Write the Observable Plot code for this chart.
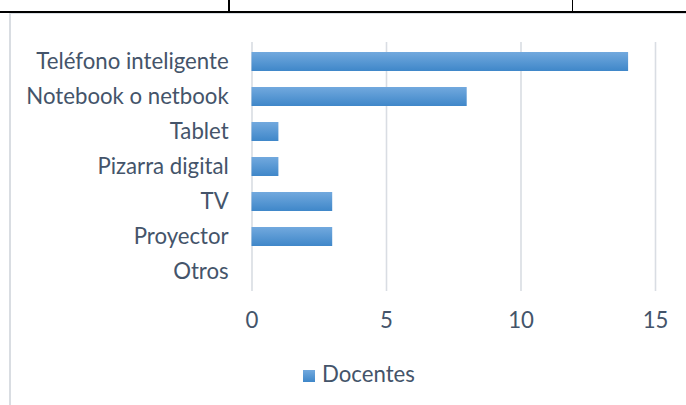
<!DOCTYPE html>
<html>
<head>
<meta charset="utf-8">
<script src="https://cdn.jsdelivr.net/npm/d3@7"></script>
<script src="https://cdn.jsdelivr.net/npm/@observablehq/plot@0.6"></script>
<style>
  html, body { margin: 0; padding: 0; background: #fff; }
  #wrap { position: relative; width: 686px; height: 405px; overflow: hidden; font-family: Lato, "Open Sans", sans-serif; }
  #chart { position: absolute; left: 0; top: 0; }
  .line { position: absolute; }
  #legend-swatch { position: absolute; width: 12px; height: 12px; background: linear-gradient(#72a9de, #3f87c9); }
  #legend-text { position: absolute; line-height: 1.2; white-space: nowrap; color: #44546a; }
</style>
</head>
<body>
<div id="wrap">
  <div id="chart"></div>
  <!-- surrounding document table borders and chart border -->
  <div class="line" style="left:9px;top:12.5px;width:677px;height:1px;background:#d9dde2"></div>
  <div class="line" style="left:9px;top:12.5px;width:1.5px;height:393px;background:#d9dde2"></div>
  <div class="line" style="left:0;top:11px;width:686px;height:1.5px;background:#000"></div>
  <div class="line" style="left:0;top:11px;width:9px;height:2px;background:#000"></div>
  <div class="line" style="left:228.3px;top:0;width:1.7px;height:12px;background:#000"></div>
  <div class="line" style="left:571.7px;top:0;width:1.7px;height:12px;background:#000"></div>
  <div id="legend-swatch"></div>
  <div id="legend-text"></div>
</div>
<script>
const categories = ["Teléfono inteligente", "Notebook o netbook", "Tablet", "Pizarra digital", "TV", "Proyector", "Otros"];
const values = [14, 8, 1, 1, 3, 3, 0];
const xTicks = [0, 5, 10, 15];
const seriesName = "Docentes";

const data = categories.map((c, i) => ({category: c, value: values[i]}));

// fit font size so the label widths resemble the reference (Calibri-like)
const ctx = document.createElement("canvas").getContext("2d");
ctx.font = "100px Lato";
const w = ctx.measureText("Notebook o netbook").width + ctx.measureText("Teléfono inteligente").width;
const fs = Math.max(16, Math.min(28, 100 * 395 / w));
const textColor = "#44546a";

const chart = Plot.plot({
  width: 686,
  height: 405,
  marginLeft: 251.5,
  marginRight: 31,
  marginTop: 42,
  marginBottom: 114,
  x: {domain: [0, 15], label: null},
  y: {domain: categories, paddingInner: 0.47, paddingOuter: 0.235, label: null},
  style: {fontFamily: "Lato, 'Open Sans', sans-serif", fontSize: fs + "px", color: textColor, background: "transparent"},
  marks: [
    Plot.ruleX(xTicks, {x: d => d, stroke: "#d9dde3", strokeWidth: 1.6}),
    Plot.barX(data, {x: "value", y: "category", fill: "url(#barGrad)"}),
    Plot.axisY({tickSize: 0, tickPadding: 23.3, label: null}),
    Plot.axisX({ticks: xTicks, tickSize: 0, tickPadding: 327 - 291 - 0.71 * fs, label: null})
  ]
});

const defs = d3.select(chart).insert("defs", ":first-child");
const g = defs.append("linearGradient").attr("id", "barGrad").attr("x1", 0).attr("y1", 0).attr("x2", 0).attr("y2", 1);
g.append("stop").attr("offset", "0%").attr("stop-color", "#72a9de");
g.append("stop").attr("offset", "100%").attr("stop-color", "#3f87c9");

document.getElementById("chart").appendChild(chart);

const sw = document.getElementById("legend-swatch");
sw.style.left = "303px";
sw.style.top = "370px";
const lt = document.getElementById("legend-text");
lt.textContent = seriesName;
lt.style.fontSize = fs + "px";
lt.style.left = "322px";
lt.style.top = (383 - 0.987 * fs) + "px";
</script>
</body>
</html>
